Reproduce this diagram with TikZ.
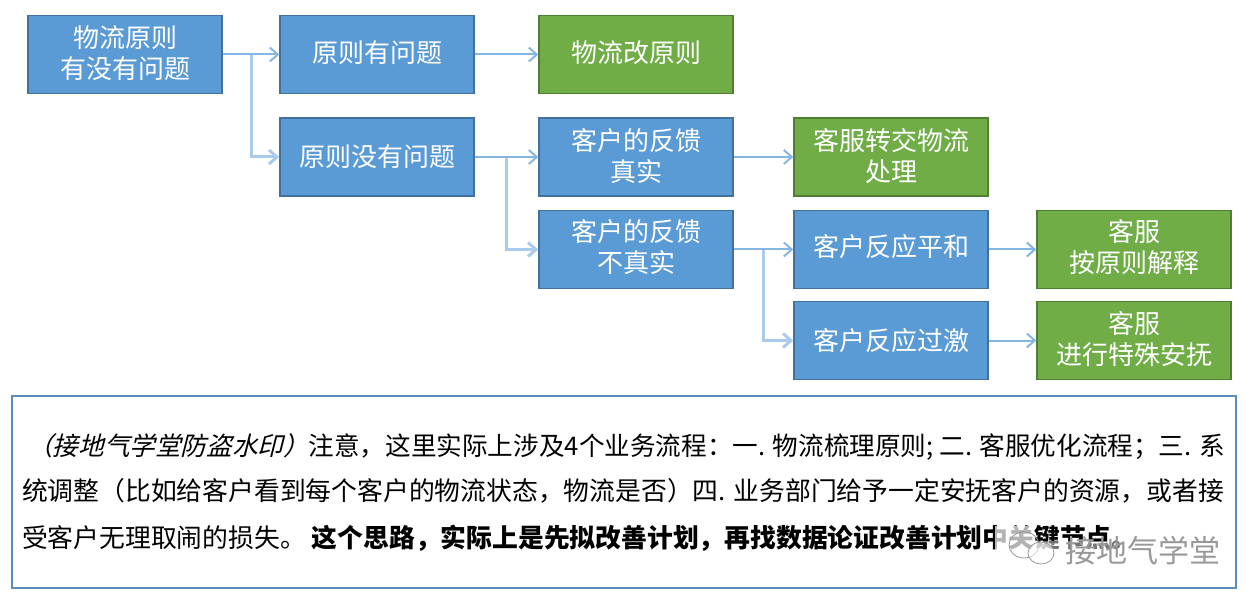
\documentclass[tikz,border=0pt]{standalone}
\usepackage{fontspec}
\setmainfont{Noto Sans CJK SC}
\newfontfamily\slantfont[FakeSlant=0.25]{Noto Sans CJK SC}
\usetikzlibrary{calc,positioning,arrows.meta}
\definecolor{bluefill}{HTML}{5B9BD5}
\definecolor{blueline}{HTML}{41719C}
\definecolor{greenfill}{HTML}{70AD47}
\definecolor{greenline}{HTML}{507E32}
\definecolor{linkcol}{HTML}{85B5E2}
\definecolor{notecol}{HTML}{5B8DB8}
\newcommand{\lift}[1]{\rule[-#1]{0pt}{#1}}
\tikzset{
	bluebox/.style={draw=blueline,fill=bluefill,line width=1.4pt,text=white,minimum width=194pt,minimum height=78pt,
		inner sep=0pt,align=center,font=\fontsize{26}{31}\selectfont},
	greenbox/.style={bluebox,draw=greenline,fill=greenfill},
	link/.style={draw=linkcol,line width=2pt,-{Straight Barb[length=8pt,width=14pt]}},
	branch/.style={link,line width=3pt,draw=linkcol!70}
}
\begin{document}
\begin{tikzpicture}[x=1pt,y=-1pt]
	\useasboundingbox (0,0) rectangle (1251,596);
	\node[bluebox] (rule) at (125,54.5) {物流原则\\有没有问题\lift{5pt}};
	\node[bluebox] (bad) at (377,54.5) {原则有问题\lift{5pt}};
	\node[greenbox] (change) at (636,54.5) {物流改原则\lift{5pt}};
	\node[bluebox] (good) at (377,157) {原则没有问题};
	\node[bluebox] (real) at (636,157) {客户的反馈\\真实\lift{5pt}};
	\node[greenbox] (pass) at (891,157) {客服转交物流\\处理\lift{5pt}};
	\node[bluebox] (fake) at (636,249.5) {客户的反馈\\不真实\lift{8pt}};
	\node[bluebox] (calm) at (891,249.5) {客户反应平和\lift{8pt}};
	\node[greenbox] (explain) at (1134,249.5) {客服\\按原则解释\lift{8pt}};
	\node[bluebox] (angry) at (891,340.5) {客户反应过激};
	\node[greenbox] (soothe) at (1134,340.5) {客服\\进行特殊安抚\lift{5pt}};
	% branches first
	\draw[branch] (251,54.5) coordinate (ruleturn) |- (good);
	\draw[branch] (506,157) coordinate (goodturn) |- (fake);
	\draw[branch] (763,249.5) coordinate (faketurn) |- (angry);
	\path
	\foreach \startNode/\endNode in {rule/bad,bad/change,good/real,real/pass,fake/calm,calm/explain,angry/soothe}
	{
		(\startNode) edge[link] (\endNode)
	};
	% note
	\node[draw=notecol,line width=1.4pt,minimum width=1224pt,minimum height=192pt,inner sep=0pt] (note) at (624,492) {};
	\node[anchor=west,inner sep=0pt,font=\fontsize{25.6}{26}\selectfont] (lineone) at (27,447)
		{{\slantfont（接地气学堂防盗水印）}注意，这里实际上涉及4个业务流程：一. 物流梳理原则; 二. 客服优化流程；三. 系};
	\node[anchor=west,inner sep=0pt,font=\fontsize{25.8}{26}\selectfont] (linetwo) at (22,491)
		{统调整（比如给客户看到每个客户的物流状态，物流是否）四. 业务部门给予一定安抚客户的资源，或者接};
	\node[anchor=west,inner sep=0pt,font=\fontsize{25.8}{26}\selectfont] (linethree) at (22,538)
		{受客户无理取闹的损失。\hspace{6pt}\textbf{这个思路，实际上是先拟改善计划，再找数据论证改善计划中关键节点。}};
	% watermark
	\fill[white,opacity=.7] (995,526) rectangle (1034,560);
	\fill[white,opacity=.45] (1034,541) rectangle (1222,572);
	\node[anchor=west,inner sep=0pt,text=black!40,font=\fontsize{31}{34}\selectfont] (mark) at (1065,551) {接地气学堂};
	\draw[black!40,thick] (1024,545) ellipse (15 and 13);
	\draw[black!40,fill=white,fill opacity=.6,thick] (1041,553) ellipse (13 and 11);
\end{tikzpicture}
\end{document}
